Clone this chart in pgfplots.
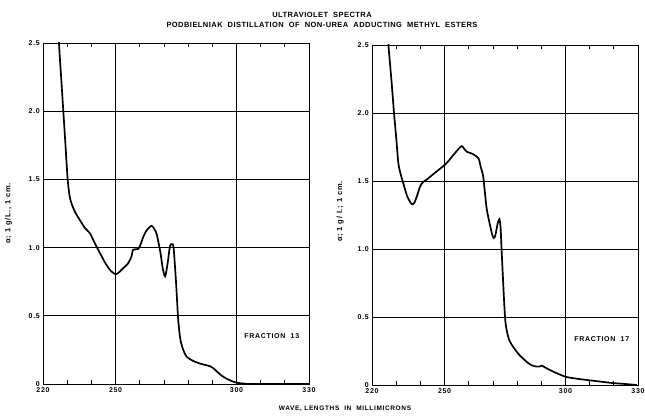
\documentclass[border=0pt]{standalone}
\usepackage{fontspec}
\setmainfont{Liberation Sans}
\newfontfamily\lett[LetterSpace=10]{Liberation Sans}
\newfontfamily\lettt[LetterSpace=6]{Liberation Sans}
\usepackage{pgfplots}
\pgfplotsset{compat=1.18}
\begin{document}
\begin{tikzpicture}
\path[use as bounding box] (0pt,0pt) rectangle (645pt,415pt);
\pgfplotsset{
 spec/.style={
  scale only axis, width=266pt, height=341pt,
  xmin=220,xmax=330,ymin=0,ymax=2.5,
  xtick={220,250,300,330}, xticklabels={220,250,300,330},
  minor xtick={230,240,260,270,280,290,310,320},
  ytick={0,0.5,1,1.5,2,2.5}, yticklabels={0,0.5,1.0,1.5,2.0,2.5},
  grid=major, major grid style={black, line width=0.7pt},
  axis line style={line width=0.8pt},
  tick style={black, line width=0.7pt},
  major tick length=0pt, minor tick length=4pt,
  tick align=inside,
  ticklabel style={font=\lett\fontsize{7}{8}\selectfont\bfseries, inner sep=1pt},
  xticklabel style={yshift=-2pt},
  yticklabel style={xshift=-2pt},
  /pgf/number format/assume math mode=true,
  label style={font=\lett\fontsize{7.5}{8}\selectfont\bfseries},
  every axis plot post/.append style={black, line width=1.7pt, smooth, tension=0.45, mark=none},
 }
}
\begin{axis}[spec, at={(43pt,31pt)}, anchor=south west,
  ylabel={α; 1 g/L., 1 cm.},
  ylabel style={at={(axis description cs:-0.13,0.5)}, anchor=center}]
\addplot coordinates {
(226.5,2.6) (226.6,2.5) (227.5,2.25) (228.4,2.0) (229.3,1.75) (230.2,1.5) (231.2,1.36) (233,1.27)
(235.3,1.20) (237.5,1.14) (239.4,1.105) (241.5,1.03) (243.6,0.958) (246,0.88)
(248,0.83) (250,0.805) (251.5,0.82) (253.2,0.85) (255,0.88) (256.5,0.93)
(257.3,0.985) (259.4,0.99) (260.5,1.03) (261.5,1.08) (263,1.13) (265,1.16)
(266.2,1.13) (267,1.10) (268.5,0.97) (269.5,0.85) (270.5,0.79) (271.5,0.88)
(272.5,1.01) (273.3,1.025) (274,1.0) (275,0.75) (275.8,0.50) (276.4,0.38)
(277,0.31) (278,0.25) (279.4,0.20) (282,0.17) (284.9,0.15) (287,0.14)
(289.1,0.13) (290.5,0.115) (292,0.09) (294,0.06) (296,0.038) (298,0.022)
(300,0.01) (303,0.003) (306,0) (318,0) (330,0)
};
\node[font=\lett\fontsize{7}{8}\selectfont\bfseries] at (axis cs:314.6,0.35) {FRACTION\ \ 13};
\end{axis}
\begin{axis}[spec, at={(372pt,30pt)}, anchor=south west, height=340pt,
  ylabel={α; 1 g/ l.; 1 cm.},
  ylabel style={at={(axis description cs:-0.12,0.51)}, anchor=center}]
\addplot coordinates {
(226.7,2.6) (226.8,2.5) (228,2.25) (229.1,2.0) (230.1,1.8) (230.9,1.63) (232,1.54)
(233,1.48) (234.5,1.39) (236.4,1.33) (237.5,1.34) (238.6,1.39) (239.9,1.46)
(241,1.49) (242.6,1.51) (246,1.56) (250.2,1.62) (252,1.655) (253.6,1.69)
(255.5,1.73) (257.1,1.757) (258,1.74) (259.2,1.715) (261.5,1.70) (264,1.667)
(265,1.60) (266,1.53) (267.4,1.30) (269,1.16) (269.8,1.10) (270.4,1.08)
(271,1.10) (272,1.19) (272.7,1.22) (273.2,1.15) (273.6,0.99) (275,0.50)
(276.1,0.37) (277,0.32) (278.4,0.28) (281,0.22) (284,0.17) (286,0.145)
(288.1,0.135) (289,0.135) (290.2,0.142) (292,0.125) (295,0.098) (299.8,0.062)
(304,0.048) (308.8,0.037) (314,0.026) (319.8,0.014) (325,0.007) (329.5,0.0)
};
\node[font=\lett\fontsize{7}{8}\selectfont\bfseries] at (axis cs:315,0.34) {FRACTION\ \ 17};
\end{axis}
\node[font=\lettt\fontsize{7.5}{8}\selectfont\bfseries] at (322pt,400pt) {ULTRAVIOLET\ \ SPECTRA};
\node[font=\lettt\fontsize{7.5}{8}\selectfont\bfseries] at (322pt,390pt) {PODBIELNIAK\ \ DISTILLATION\ \ OF\ \ NON-UREA\ \ ADDUCTING\ \ METHYL\ \ ESTERS};
\node[font=\lett\fontsize{6.5}{7}\selectfont\bfseries] at (345pt,6pt) {WAVE, LENGTHS\ \ IN\ \ MILLIMICRONS};
\end{tikzpicture}
\end{document}
